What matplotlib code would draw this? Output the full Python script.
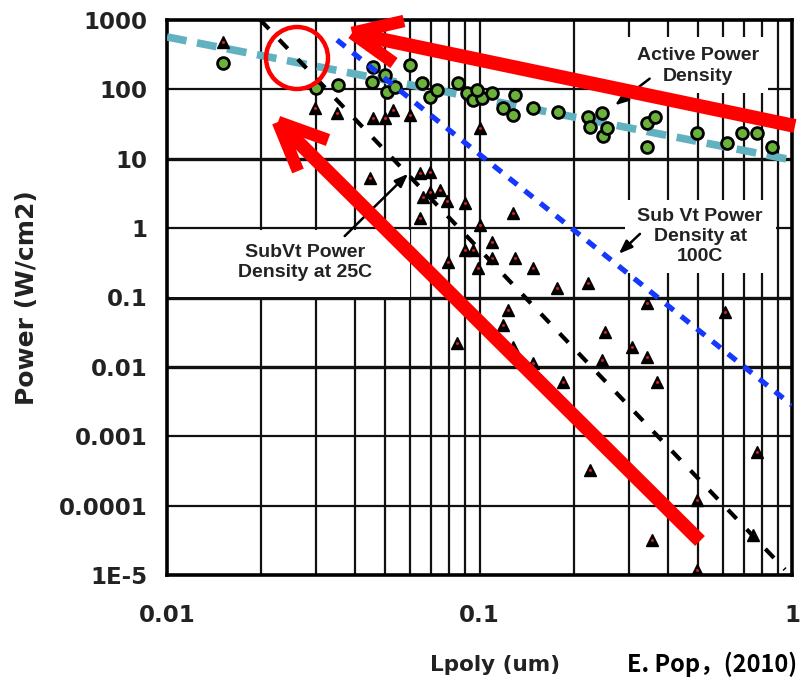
import matplotlib
matplotlib.use("Agg")
import matplotlib.pyplot as plt
from matplotlib.patches import Rectangle, Circle
from matplotlib.lines import Line2D
from matplotlib.ticker import NullLocator

# ---------------- data ----------------
active_x = [0.0151, 0.030, 0.0352, 0.0456, 0.0453, 0.0499, 0.0506, 0.0537, 0.060, 0.0655,
            0.0695, 0.0731, 0.0853, 0.0912, 0.0953, 0.102, 0.098, 0.110, 0.130, 0.128,
            0.119, 0.148, 0.178, 0.222, 0.247, 0.226, 0.248, 0.256, 0.344, 0.365,
            0.344, 0.497, 0.62, 0.69, 0.77, 0.86]
active_y = [240, 105, 116, 210, 128, 161, 92, 108, 225, 124,
            78, 98, 124, 89, 70, 75, 98, 89, 83, 43,
            54, 54, 47, 40, 46, 29, 21, 28, 33, 40,
            14.8, 23.5, 16.9, 23.5, 23.5, 14.8]

subvt_x = [0.0151, 0.0298, 0.035, 0.0456, 0.0499, 0.0528, 0.060, 0.1005, 0.0447, 0.0695,
           0.0646, 0.0695, 0.066, 0.0787, 0.090, 0.0646, 0.1005, 0.128, 0.1097, 0.110,
           0.130, 0.148, 0.177, 0.222, 0.344, 0.123, 0.119, 0.252, 0.128, 0.308,
           0.344, 0.247, 0.148, 0.185, 0.37, 0.611, 0.226, 0.356, 0.497, 0.497,
           0.77, 0.75, 0.090, 0.0953, 0.0792, 0.099, 0.0847, 0.0748]
subvt_y = [482, 54, 46, 39, 39, 50, 43, 28, 5.3, 6.5,
           6.2, 3.3, 2.8, 2.5, 2.3, 1.4, 1.1, 1.66, 0.63, 0.372,
           0.372, 0.267, 0.137, 0.162, 0.0836, 0.066, 0.040, 0.032, 0.0194, 0.0194,
           0.0139, 0.0126, 0.0114, 0.0061, 0.0061, 0.062, 3.3e-4, 3.2e-5, 1.2e-4, 1.2e-5,
           6e-4, 3.8e-5, 0.485, 0.485, 0.326, 0.267, 0.022, 3.55]

active_fit_x = [0.01, 1.0]
active_fit_y = [570, 9.6]
sub25_fit_x = [0.0199, 0.95]
sub25_fit_y = [1000, 1.2e-5]
sub100_fit_x = [0.035, 1.0]
sub100_fit_y = [515, 0.0028]

x_ticks = [0.01, 0.1, 1]
x_ticklabels = ["0.01", "0.1", "1"]
y_ticks = [1e-5, 1e-4, 1e-3, 1e-2, 1e-1, 1, 10, 100, 1000]
y_ticklabels = ["1E-5", "0.0001", "0.001", "0.01", "0.1", "1", "10", "100", "1000"]

# ---------------- figure ----------------
W, H = 800, 683
fig = plt.figure(figsize=(W / 100, H / 100), dpi=100)
ax = fig.add_axes([167 / W, 1 - 575 / H, 625 / W, 555 / H])
ax.set_xscale("log")
ax.set_yscale("log")
ax.set_xlim(0.01, 1)
ax.set_ylim(1e-5, 1000)

# grid
for dec in [0.01, 0.1]:
    for m in range(1, 10):
        xv = dec * m
        if 0.01 < xv < 1:
            ax.axvline(xv, color="#111111", lw=1.6, zorder=1)
hw = {1e-4: 1.6, 1e-3: 1.6, 1e-2: 2.4, 1e-1: 2.4, 1: 1.6, 10: 2.4, 100: 1.6}
for yv, lw in hw.items():
    ax.axhline(yv, color="#111111", lw=lw, zorder=1)

for s in ax.spines.values():
    s.set_linewidth(2.6)
    s.set_color("black")

ax.set_xticks(x_ticks)
ax.set_xticklabels(x_ticklabels)
ax.set_yticks(y_ticks)
ax.set_yticklabels(y_ticklabels)
ax.xaxis.set_minor_locator(NullLocator())
ax.yaxis.set_minor_locator(NullLocator())
ax.tick_params(length=0)
ax.tick_params(axis="y", pad=14)
ax.tick_params(axis="x", pad=21)
for lab in ax.get_xticklabels() + ax.get_yticklabels():
    lab.set_fontfamily("DejaVu Sans")
    lab.set_fontweight("bold")
    lab.set_fontsize(16.5)
    lab.set_color("#222222")

# white label boxes (occlude grid)
for (x0, y0, x1, y1) in [(0.736, 0.868, 0.962, 0.969),
                         (0.733, 0.544, 0.974, 0.676),
                         (0.005, 0.501, 0.389, 0.622)]:
    ax.add_patch(Rectangle((x0, y0), x1 - x0, y1 - y0, transform=ax.transAxes,
                           facecolor="white", edgecolor="none", zorder=2))

# scatter
ax.plot(active_x, active_y, linestyle="none", marker="o", ms=8.5,
        mfc="#6ab23a", mec="black", mew=2.0, zorder=4)
ax.plot(subvt_x, subvt_y, linestyle="none", marker="^", ms=9,
        mfc="black", mec="black", zorder=4)
ax.plot(subvt_x, subvt_y, linestyle="none", marker="o", ms=2.2,
        mfc="#d02020", mec="none", zorder=5)

# trend lines
ax.plot(active_fit_x, active_fit_y, color="#62b1c0", lw=5.5,
        dashes=(2.6, 1.4), zorder=3)
ax.plot(sub25_fit_x, sub25_fit_y, color="black", lw=3,
        dashes=(3.0, 3.5), zorder=6)
ax.plot(sub100_fit_x, sub100_fit_y, color="#1438ff", lw=3.8,
        dashes=(2.0, 1.8), zorder=6)

# annotation texts
tfont = dict(family="Liberation Sans", weight="bold", fontsize=14,
             color="#222222", ha="center", va="center", linespacing=1.25, zorder=7)
ax.text(0.850, 0.917, "Active Power\nDensity", transform=ax.transAxes, **tfont)
ax.text(0.853, 0.610, "Sub Vt Power\nDensity at\n100C", transform=ax.transAxes, **tfont)
ax.text(0.221, 0.563, "SubVt Power\nDensity at 25C", transform=ax.transAxes, **tfont)

aprops = dict(arrowstyle="-|>,head_length=0.8,head_width=0.3", color="black", lw=1.8)
ax.annotate("", xy=(0.267, 55.7), xytext=(0.356, 151), arrowprops=aprops, zorder=7)
ax.annotate("", xy=(0.275, 0.40), xytext=(0.331, 0.88), arrowprops=aprops, zorder=7)
ax.annotate("", xy=(0.060, 6.5), xytext=(0.0365, 0.72), arrowprops=aprops, zorder=7)

# axis labels
fig.text(27 / W, 1 - 298 / H, "Power (W/cm2)", rotation=90, ha="center", va="center",
         family="DejaVu Sans", weight="bold", fontsize=18, color="#222222")
fig.text(495 / W, 1 - 665 / H, "Lpoly (um)", ha="center", va="center",
         family="DejaVu Sans", weight="bold", fontsize=15.5, color="#222222")
fig.text(797 / W, 1 - 664 / H, "E. Pop，(2010)", ha="right", va="center",
         family=["Noto Sans CJK JP", "DejaVu Sans"], weight="bold", fontsize=17,
         color="black")

# red overlay annotations (figure pixel positions)
def f(px, py):
    return px / W, 1 - py / H

red = "#ff0000"
def seg(p0, p1, lw=10):
    (x0, y0), (x1, y1) = f(*p0), f(*p1)
    fig.add_artist(Line2D([x0, x1], [y0, y1], transform=fig.transFigure,
                          color=red, lw=lw, solid_capstyle="butt", zorder=20))

seg((795, 126), (356, 34))
seg((352, 33), (404, 21), lw=9)
seg((352, 33), (394, 63), lw=9)
seg((700, 541), (282, 126))
seg((278, 122), (328, 140), lw=9)
seg((278, 122), (298, 171), lw=9)

cx, cy = f(297, 58)
fig.add_artist(Circle((cx * W, (cy) * H), 31, transform=None, fill=False,
                      edgecolor=red, lw=3.2, zorder=20))

fig.savefig("out.png", dpi=100)
